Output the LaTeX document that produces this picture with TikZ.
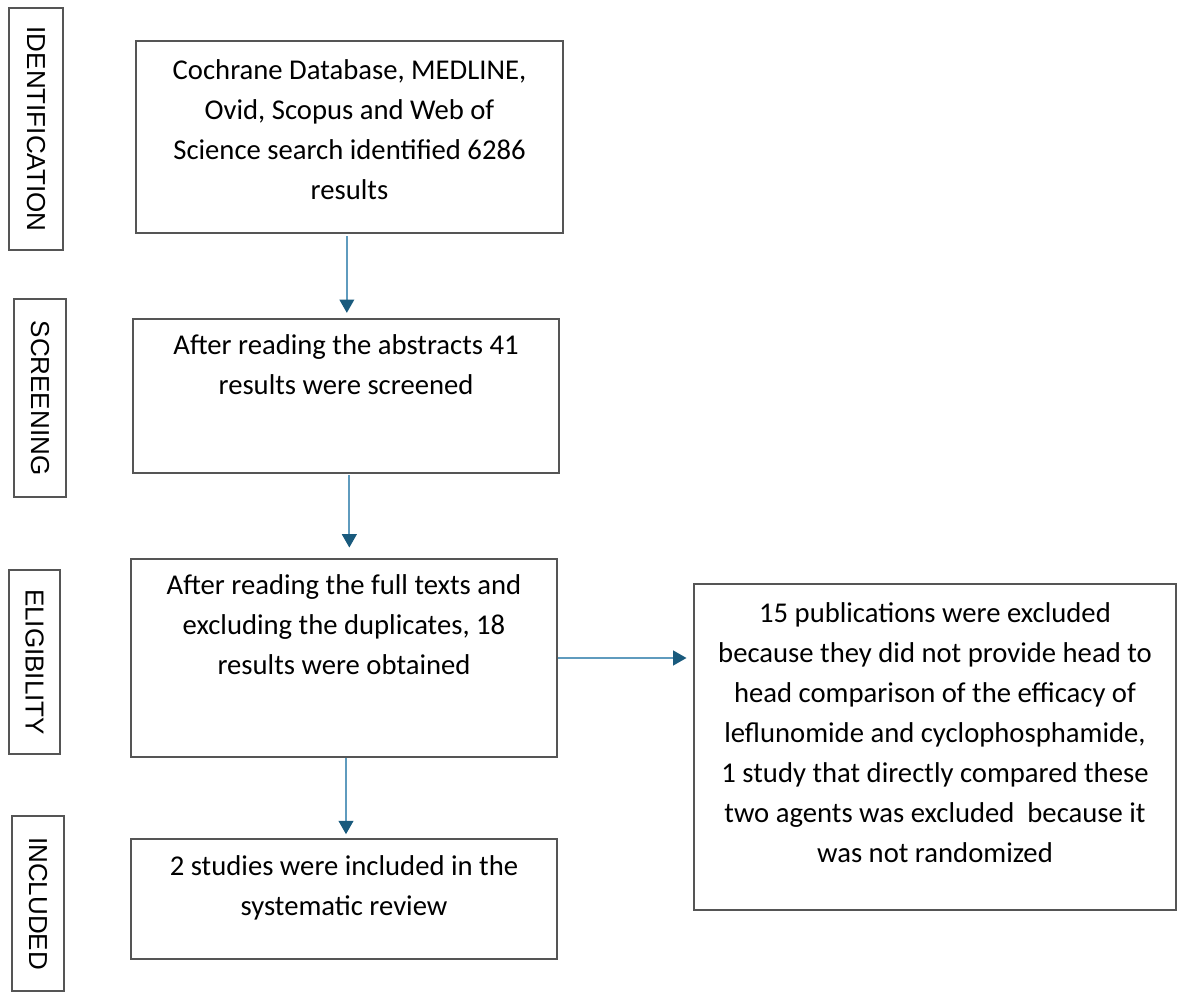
\documentclass[tikz,border=0pt]{standalone}
\usepackage{fontspec}
\setmainfont{Carlito}
\newfontfamily\stagefont{Liberation Sans}
\usetikzlibrary{arrows.meta}

\definecolor{boxline}{RGB}{85,85,85}
\definecolor{arrowline}{RGB}{95,155,190}
\definecolor{arrowhead}{RGB}{25,90,125}

\tikzset{
every picture/.style={
line width=1.2pt
},
box/.style={draw=boxline, inner sep=0pt},
boxtext/.style={align=center, inner sep=0pt, font=\fontsize{21.5}{30}\selectfont},
stage/.style={draw=boxline, inner sep=0pt, text=black, font=\stagefont\fontsize{19.5}{22}\selectfont},
flow/.style={draw=arrowline, line width=1.4pt, -{Triangle[length=10pt, width=11pt, color=arrowhead, fill=arrowhead]}}
}

\begin{document}
\begin{tikzpicture}[x=0.75pt, y=-0.75pt]

  \useasboundingbox (0,0) rectangle (1177,994);

  % stage labels on the left
  \node (id) [stage, minimum width=242*0.75pt, minimum height=54*0.75pt, rotate=-90] at (36,129) {IDENTIFICATION};
  \node (sc) [stage, minimum width=198*0.75pt, minimum height=52*0.75pt, rotate=-90] at (40,398) {SCREENING};
  \node (el) [stage, minimum width=184*0.75pt, minimum height=51*0.75pt, rotate=-90] at (34.5,662) {ELIGIBILITY};
  \node (in) [stage, minimum width=175*0.75pt, minimum height=52*0.75pt, rotate=-90] at (38,903.5) {INCLUDED};

  % main boxes
  \node (s1) [box, minimum width=427*0.75pt, minimum height=192*0.75pt] at (349.5,137) {};
  \node (s1t) [boxtext, below] at ([yshift=-14pt]s1.north) {Cochrane Database, MEDLINE,\\ Ovid, Scopus and Web of\\ Science search identified 6286\\ results};

  \node (s2) [box, minimum width=426*0.75pt, minimum height=154*0.75pt] at (346,396) {};
  \node (s2t) [boxtext, below] at ([yshift=-11.5pt]s2.north) {After reading the abstracts 41\\ results were screened};

  \node (s3) [box, minimum width=426*0.75pt, minimum height=198*0.75pt] at (344,658) {};
  \node (s3t) [boxtext, below] at ([yshift=-12pt]s3.north) {After reading the full texts and\\ excluding the duplicates, 18\\ results were obtained};

  \node (s4) [box, minimum width=426*0.75pt, minimum height=120*0.75pt] at (344,899) {};
  \node (s4t) [boxtext, below] at ([yshift=-12.5pt]s4.north) {2 studies were included in the\\ systematic review};

  \node (ex) [box, minimum width=482*0.75pt, minimum height=326*0.75pt] at (935,747) {};
  \node (ext) [boxtext, below] at ([yshift=-14pt]ex.north) {15 publications were excluded\\ because they did not provide head to\\ head comparison of the efficacy of\\ leflunomide and cyclophosphamide,\\ 1 study that directly compared these\\ two agents was excluded\ \ because it\\ was not randomized};

  % arrows
  \draw [flow, shorten >=4pt] ([xshift=-2pt, yshift=-2pt]s1.south) -- ([xshift=-2pt]s1.south |- s2.north);
  \draw [flow, shorten >=8pt] ([xshift=2.5pt, yshift=-1pt]s2.south) -- ([xshift=2.5pt]s2.south |- s3.north);
  \draw [flow, shorten >=3pt] ([xshift=1.5pt]s3.south) -- ([xshift=1.5pt]s3.south |- s4.north);
  \draw [flow, shorten >=5pt] (s3.east) -- (ex.west |- s3.east);

\end{tikzpicture}
\end{document}
